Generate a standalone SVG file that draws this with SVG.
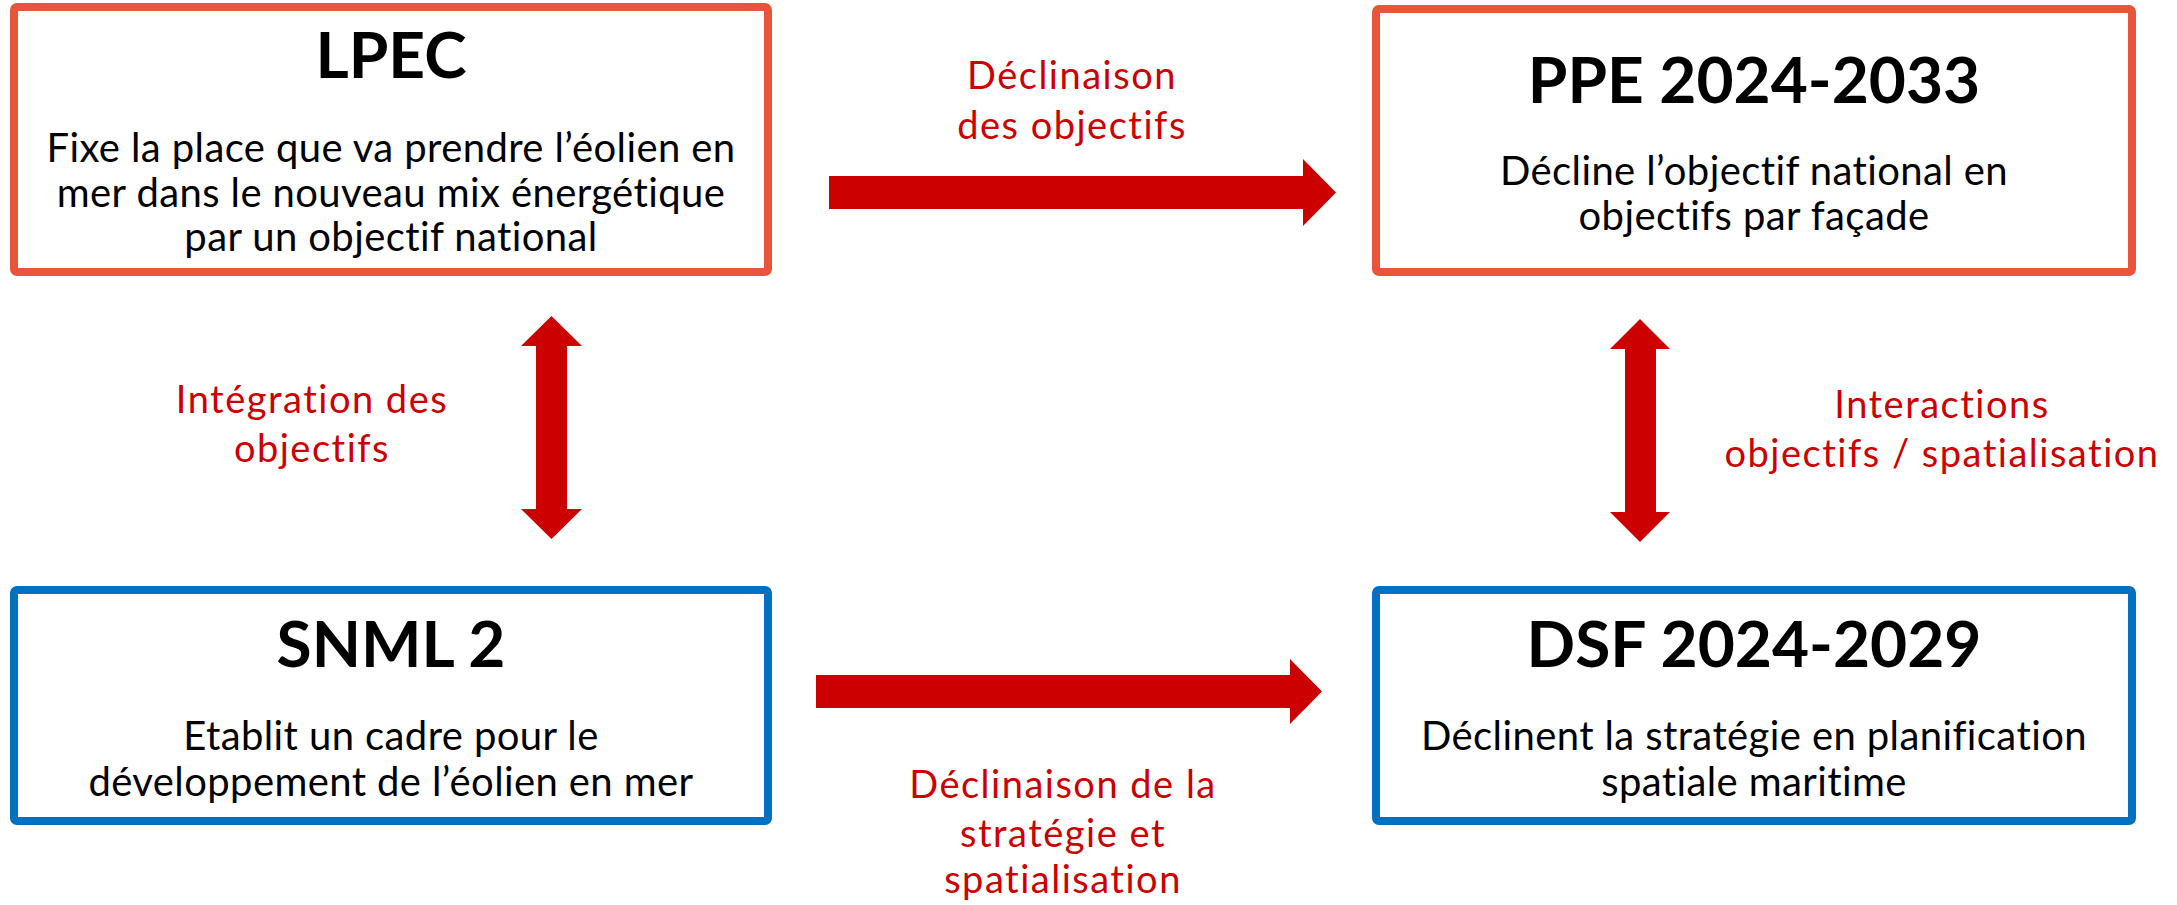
<svg xmlns="http://www.w3.org/2000/svg" width="2177" height="905" viewBox="0 0 2177 905">
<style>
.box{fill:#fff;stroke-width:8}
.orange{stroke:#E8553A}
.blue{stroke:#0070C0}
.title{font-family:Lato,"Open Sans",sans-serif;font-weight:bold;font-size:64px;fill:#000;text-anchor:middle}
.body{font-family:Lato,"Open Sans",sans-serif;font-size:40px;letter-spacing:0.4px;fill:#000;text-anchor:middle}
.lbl{font-family:Lato,"Open Sans",sans-serif;font-size:38px;letter-spacing:1.5px;fill:#CC0000;text-anchor:middle}
.arrow{fill:#CC0000}
</style>
<rect width="2177" height="905" fill="#fff"/>
<g id="lpec">
<rect class="box orange" x="14" y="7" width="754" height="265" rx="3"/>
<text class="title" x="391" y="78">LPEC</text>
<text class="body" x="391" y="162">Fixe la place que va prendre l’éolien en</text>
<text class="body" x="391" y="207">mer dans le nouveau mix énergétique</text>
<text class="body" x="391" y="251">par un objectif national</text>
</g>
<g id="ppe">
<rect class="box orange" x="1376" y="9" width="756" height="263" rx="3"/>
<text class="title" x="1754" y="103">PPE 2024-2033</text>
<text class="body" x="1754" y="185">Décline l’objectif national en</text>
<text class="body" x="1754" y="230">objectifs par façade</text>
</g>
<g id="snml">
<rect class="box blue" x="14" y="590" width="754" height="231" rx="3"/>
<text class="title" x="391" y="667">SNML 2</text>
<text class="body" x="391" y="750">Etablit un cadre pour le</text>
<text class="body" x="391" y="796">développement de l’éolien en mer</text>
</g>
<g id="dsf">
<rect class="box blue" x="1376" y="590" width="756" height="231" rx="3"/>
<text class="title" x="1754" y="667">DSF 2024-2029</text>
<text class="body" x="1754" y="750">Déclinent la stratégie en planification</text>
<text class="body" x="1754" y="796">spatiale maritime</text>
</g>
<g id="connectors">
<polygon class="arrow" points="829,176 1303,176 1303,159 1336,192.5 1303,226 1303,209 829,209"/>
<polygon class="arrow" points="816,675 1290,675 1290,659 1322,691.5 1290,724 1290,708 816,708"/>
<polygon class="arrow" points="551.5,316 582,346 567,346 567,509 582,509 551.5,539 521,509 536,509 536,346 521,346"/>
<polygon class="arrow" points="1640,319 1670,349 1656,349 1656,512 1670,512 1640,542 1610,512 1625,512 1625,349 1610,349"/>
<text class="lbl" x="1072" y="89">Déclinaison</text>
<text class="lbl" x="1072" y="139">des objectifs</text>
<text class="lbl" x="1063" y="798">Déclinaison de la</text>
<text class="lbl" x="1063" y="847">stratégie et</text>
<text class="lbl" x="1063" y="893">spatialisation</text>
<text class="lbl" x="312" y="413">Intégration des</text>
<text class="lbl" x="312" y="462">objectifs</text>
<text class="lbl" x="1942" y="418">Interactions</text>
<text class="lbl" x="1942" y="467">objectifs / spatialisation</text>
</g>
</svg>
